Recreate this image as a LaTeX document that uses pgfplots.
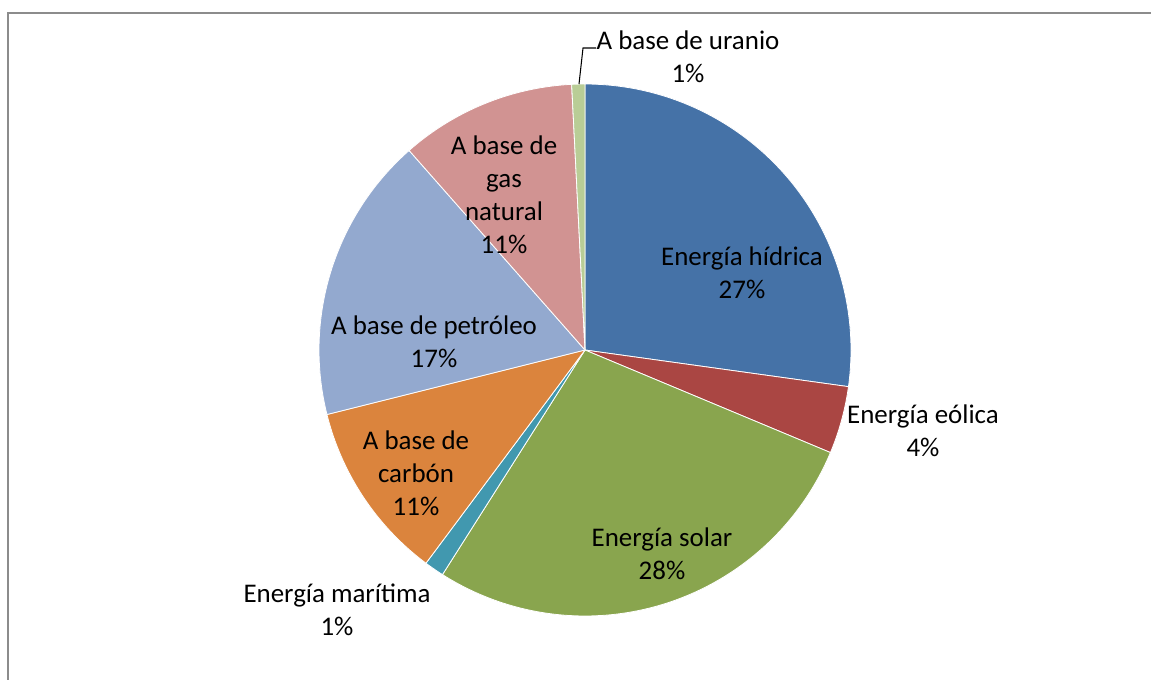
\documentclass[border=0pt]{standalone}
\usepackage{fontspec}
\setmainfont{Carlito}
\usepackage{pgfplots}
\pgfplotsset{compat=1.18}
\usepackage{pgfplotstable}

\definecolor{hidrica}{HTML}{4572A7}
\definecolor{eolica}{HTML}{AA4643}
\definecolor{solar}{HTML}{89A54E}
\definecolor{maritima}{HTML}{4198AF}
\definecolor{carbon}{HTML}{DB843D}
\definecolor{petroleo}{HTML}{93A9CF}
\definecolor{gasnat}{HTML}{D19392}
\definecolor{uranio}{HTML}{B9CD96}
\definecolor{framegray}{HTML}{8C8C8C}

% shares of the pie (percent), clockwise from 12 o'clock
\pgfplotstableread{
name      value
hidrica   27.2
eolica    4.1
solar     27.7
maritima  1.2
carbon    10.9
petroleo  17.4
gasnat    10.7
uranio    0.8
}\piedata

\def\cum{0}
\newcommand\slice[1]{% #1 = row index
  \pgfplotstablegetelem{#1}{value}\of\piedata
  \let\val\pgfplotsretval
  \pgfplotstablegetelem{#1}{name}\of\piedata
  \let\col\pgfplotsretval
  \pgfmathsetmacro\sA{3.6*\cum}%
  \pgfmathsetmacro\sB{3.6*(\cum+\val)}%
  \pgfmathsetmacro\cumnew{\cum+\val}%
  \global\let\cum\cumnew
  \edef\doslice{\noexpand\addplot[fill=\col, draw=white, line width=0.6pt,
      domain=\sA:\sB, samples=90, variable=\noexpand\t]
      ({585+266*sin(\noexpand\t)},{350-266*cos(\noexpand\t)})
      -- (axis cs:585,350) -- cycle;}%
  \doslice
}

\begin{document}
\begin{tikzpicture}
\begin{axis}[
  width=863.25pt, height=510pt, scale only axis,
  xmin=0, xmax=1151, ymin=0, ymax=680, y dir=reverse,
  hide axis, clip=true,
]
\slice{0}
\slice{1}
\slice{2}
\slice{3}
\slice{4}
\slice{5}
\slice{6}
\slice{7}

\draw[framegray, line width=1.5pt] (axis cs:7.5,680) -- (axis cs:7.5,13.5) -- (axis cs:1151,13.5);

\draw[black, line width=0.8pt] (axis cs:579,84) -- (axis cs:583,48) -- (axis cs:596,48);

\tikzset{lab/.style={align=center, inner sep=0pt, font=\fontsize{20.2}{24.75}\selectfont, text=black}}
\node[lab] at (axis cs:742,273) {Energía hídrica\\27\%};
\node[lab] at (axis cs:923,430.5) {Energía eólica\\4\%};
\node[lab] at (axis cs:662,553.5) {Energía solar\\28\%};
\node[lab] at (axis cs:337,609.5) {Energía marítima\\1\%};
\node[lab] at (axis cs:416,473) {A base de\\carbón\\11\%};
\node[lab] at (axis cs:434,342) {A base de petróleo\\17\%};
\node[lab] at (axis cs:504,195) {A base de\\gas\\natural\\11\%};
\node[lab] at (axis cs:688,57) {A base de uranio\\1\%};
\end{axis}
\useasboundingbox (current axis.south west) rectangle (current axis.north east);
\end{tikzpicture}
\end{document}
